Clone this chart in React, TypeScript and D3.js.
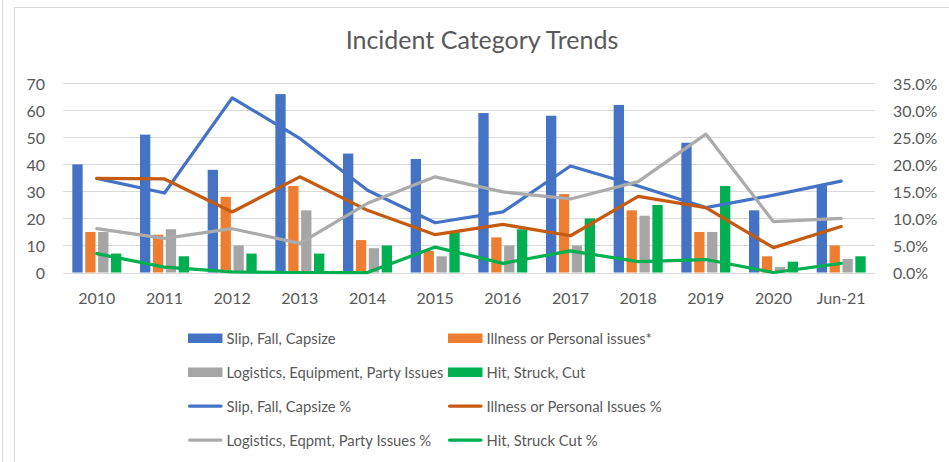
import * as d3 from "d3";

const categories = ["2010", "2011", "2012", "2013", "2014", "2015", "2016", "2017", "2018", "2019", "2020", "Jun-21"];

// bar series (counts, left axis)
const slipFall = [40, 51, 38, 66, 44, 42, 59, 58, 62, 48, 23, 32];
const illness = [15, 14, 28, 32, 12, 8, 13, 29, 23, 15, 6, 10];
const logistics = [15, 16, 10, 23, 9, 6, 10, 10, 21, 15, 2, 5];
const hitStruck = [7, 6, 7, 7, 10, 15, 16, 20, 25, 32, 4, 6];

// line series (percent, right axis)
const slipPct = [17.4, 14.7, 32.3, 24.8, 15.2, 9.2, 11.2, 19.7, 16.0, 12.0, 14.3, 16.9];
const illnessPct = [17.4, 17.3, 11.2, 17.7, 11.5, 7.0, 8.9, 6.8, 14.1, 12.0, 4.6, 8.5];
const logisticsPct = [8.1, 6.3, 8.1, 5.4, 12.8, 17.7, 14.9, 13.6, 16.8, 25.6, 9.4, 10.0];
const hitPct = [3.5, 1.0, 0.1, 0, 0, 4.7, 1.7, 4.0, 2.0, 2.4, 0, 1.7];

const leftTicks = [0, 10, 20, 30, 40, 50, 60, 70];
const rightTicks = [0, 5, 10, 15, 20, 25, 30, 35];

const barSeries = [
  { name: "Slip, Fall, Capsize", values: slipFall, color: "#4472C4" },
  { name: "Illness or Personal issues*", values: illness, color: "#ED7D31" },
  { name: "Logistics, Equipment, Party Issues", values: logistics, color: "#A5A5A5" },
  { name: "Hit, Struck, Cut", values: hitStruck, color: "#00B050" },
];
const lineSeries = [
  { name: "Slip, Fall, Capsize %", values: slipPct, color: "#4472C4" },
  { name: "Illness or Personal Issues %", values: illnessPct, color: "#C55A11" },
  { name: "Logistics, Eqpmt, Party Issues %", values: logisticsPct, color: "#ABABAB" },
  { name: "Hit, Struck Cut %", values: hitPct, color: "#00B050" },
];

const font = "Lato, 'Liberation Sans', sans-serif";
const textColor = "#595959";

export default function App() {
  const width = 949,
    height = 462;
  const plotLeft = 63,
    plotRight = 875,
    plotTop = 83.3,
    plotBottom = 272.5;

  const x = d3.scaleBand<string>().domain(categories).range([plotLeft, plotRight]);
  const inner = d3
    .scaleBand<string>()
    .domain(barSeries.map((s) => s.name))
    .range([-24.5, 24.5])
    .paddingInner(0.2);
  const yLeft = d3.scaleLinear().domain([0, 70]).range([plotBottom, plotTop]);
  const yRight = d3.scaleLinear().domain([0, 35]).range([plotBottom, plotTop]);

  const cx = (c: string) => (x(c) ?? 0) + x.bandwidth() / 2;

  const line = d3
    .line<number>()
    .x((_, i) => cx(categories[i]))
    .y((d) => yRight(d));

  // legend layout
  const legendCols = [188, 448];
  const legendRows = [338, 372, 406, 440];
  const legendItems = [
    ...barSeries.map((s) => ({ ...s, kind: "bar" })),
    ...lineSeries.map((s) => ({ ...s, kind: "line" })),
  ];

  return (
    <svg
      width={width}
      height={height}
      style={{ position: "absolute", left: 0, top: 0, background: "#fff" }}
      fontFamily={font}
    >
      <rect x={0} y={0} width={width} height={height} fill="#fff" />
      <line x1={2.5} y1={0} x2={2.5} y2={height} stroke="#D9D9D9" />
      <path d={`M14.5,${height} V7.5 H${width}`} fill="none" stroke="#D9D9D9" />

      <text x={482} y={49} textAnchor="middle" fontSize={25} fill={textColor}>
        Incident Category Trends
      </text>

      {/* gridlines */}
      {leftTicks.map((t) => (
        <line
          key={t}
          x1={plotLeft}
          x2={plotRight}
          y1={Math.round(yLeft(t)) + 0.5}
          y2={Math.round(yLeft(t)) + 0.5}
          stroke="#D9D9D9"
        />
      ))}

      {/* left axis labels */}
      {leftTicks.map((t) => (
        <text
          key={t}
          x={45}
          y={yLeft(t)}
          textAnchor="end"
          dominantBaseline="central"
          fontSize={16}
          fill={textColor}
        >
          {t}
        </text>
      ))}

      {/* right axis labels */}
      {rightTicks.map((t) => (
        <text
          key={t}
          x={893}
          y={yRight(t)}
          textAnchor="start"
          dominantBaseline="central"
          fontSize={16}
          fill={textColor}
        >
          {d3.format(".1f")(t) + "%"}
        </text>
      ))}

      {/* x labels */}
      {categories.map((c) => (
        <text
          key={c}
          x={cx(c)}
          y={297}
          textAnchor="middle"
          dominantBaseline="central"
          fontSize={16}
          fill={textColor}
        >
          {c}
        </text>
      ))}

      {/* bars */}
      {barSeries.map((s) => (
        <g key={s.name}>
          {s.values.map((v, i) => (
            <rect
              key={i}
              x={cx(categories[i]) + (inner(s.name) ?? 0)}
              y={yLeft(v)}
              width={inner.bandwidth()}
              height={yLeft(0) - yLeft(v)}
              fill={s.color}
            />
          ))}
        </g>
      ))}

      {/* lines */}
      {lineSeries.map((s) => (
        <path
          key={s.name}
          d={line(s.values) ?? ""}
          fill="none"
          stroke={s.color}
          strokeWidth={3.25}
          strokeLinejoin="round"
          strokeLinecap="round"
        />
      ))}

      {/* legend */}
      {legendItems.map((item, i) => {
        const lx = legendCols[i % 2];
        const ly = legendRows[Math.floor(i / 2)];
        return (
          <g key={item.name}>
            {item.kind === "bar" ? (
              <rect x={lx} y={ly - 4.5} width={34.5} height={9.5} fill={item.color} />
            ) : (
              <line
                x1={lx + 1.5}
                x2={lx + 33}
                y1={ly}
                y2={ly}
                stroke={item.color}
                strokeWidth={3.25}
                strokeLinecap="round"
              />
            )}
            <text
              x={lx + 38.5}
              y={ly}
              dominantBaseline="central"
              fontSize={14.8}
              fill={textColor}
            >
              {item.name}
            </text>
          </g>
        );
      })}
    </svg>
  );
}
